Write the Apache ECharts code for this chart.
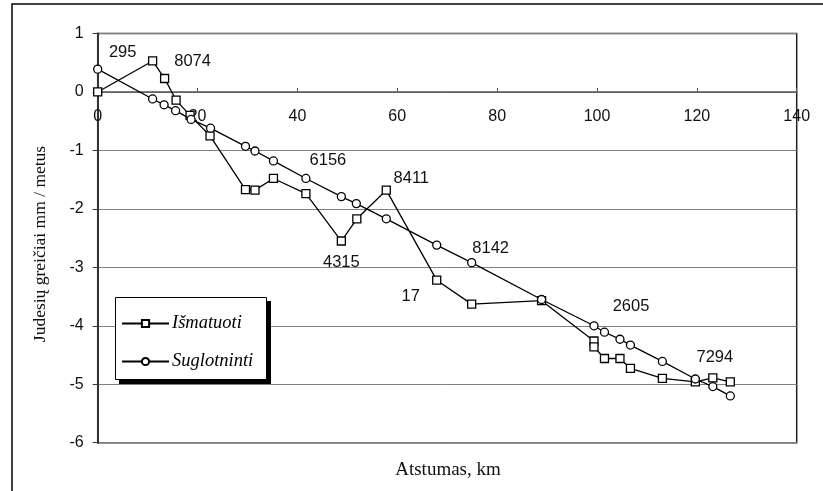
<!DOCTYPE html>
<html>
<head>
<meta charset="utf-8">
<script src="https://cdn.jsdelivr.net/npm/echarts@6/dist/echarts.min.js"></script>
<style>html,body{margin:0;padding:0;background:#fff}#c{width:823px;height:491px}</style>
</head>
<body>
<div id="c"></div>
<script>
// Išmatuoti (measured) — distance km, velocity mm/year
const distIsm = [0, 11.0, 13.4, 15.7, 18.5, 22.5, 29.6, 31.5, 35.2, 41.7, 48.8, 51.9, 57.8, 67.9, 74.9, 88.9, 99.4, 99.4, 101.5, 104.6, 106.7, 113.1, 119.7, 123.2, 126.7];
const valIsm  = [0, 0.53, 0.23, -0.14, -0.40, -0.75, -1.67, -1.68, -1.48, -1.74, -2.55, -2.17, -1.68, -3.22, -3.63, -3.57, -4.26, -4.36, -4.56, -4.56, -4.73, -4.90, -4.96, -4.89, -4.96];
// Suglotninti (smoothed)
const distSug = [0, 11.0, 13.3, 15.6, 18.7, 22.6, 29.6, 31.5, 35.2, 41.7, 48.8, 51.8, 57.8, 67.9, 74.9, 88.9, 99.4, 101.5, 104.6, 106.7, 113.1, 119.7, 123.2, 126.7];
const valSug  = [0.39, -0.12, -0.22, -0.32, -0.47, -0.62, -0.93, -1.01, -1.18, -1.48, -1.79, -1.91, -2.17, -2.62, -2.92, -3.55, -4.00, -4.11, -4.23, -4.33, -4.61, -4.91, -5.04, -5.20];
// station labels attached to points
const stationNames  = ['295', '8074', '6156', '8411', '4315', '17', '8142', '2605', '7294'];
const stationSeries = ['sug', 'ism', 'sug', 'ism', 'ism', 'ism', 'sug', 'sug', 'ism'];
const stationIndex  = [0, 1, 9, 12, 10, 13, 14, 16, 23];
const stationOffset = [[25,-17],[40,0],[22,-18],[25,-12],[0,21],[-26,16],[19,-14],[37,-19],[2,-20]];
const seriesNames = ['Išmatuoti', 'Suglotninti'];
const xTitle = 'Atstumas, km';
const yTitle = 'Judesių greičiai mm / metus';
const xTicks = {min: 0, max: 140, interval: 20};
const yTicks = {min: -6, max: 1, interval: 1};

const gridTop = 33.5, gridBottom = 48.3, chartH = 491;
const gridH = chartH - gridTop - gridBottom;
// x axis crosses the y axis at value 0: shift it up from the bottom edge accordingly
const xAxisOffset = -((0 - yTicks.min) / (yTicks.max - yTicks.min)) * gridH;

function buildData(xs, ys, key) {
  return xs.map((x, i) => {
    const item = {value: [x, ys[i]]};
    for (let k = 0; k < stationNames.length; k++) {
      if (stationSeries[k] === key && stationIndex[k] === i) {
        item.label = {
          show: true, formatter: stationNames[k], position: 'inside',
          offset: stationOffset[k], fontFamily: 'Liberation Sans', fontSize: 16.5, color: '#111'
        };
      }
    }
    return item;
  });
}

const chart = echarts.init(document.getElementById('c'), null, {renderer: 'canvas'});
chart.setOption({
  animation: false,
  backgroundColor: '#fff',
  graphic: [{
    type: 'rect', shape: {x: 12, y: 4, width: 900, height: 600},
    style: {fill: 'none', stroke: '#000', lineWidth: 1.5}, silent: true, z: -10
  }, {
    type: 'rect', shape: {x: 119, y: 301, width: 152, height: 83},
    style: {fill: '#000'}, silent: true, z: 5
  }, {
    type: 'rect', shape: {x: 115.5, y: 297.5, width: 151, height: 82},
    style: {fill: '#fff', stroke: '#000', lineWidth: 1}, silent: true, z: 5
  }, {
    type: 'text', x: 448, y: 470, silent: true, z: 5,
    style: {text: xTitle, font: '19px "Liberation Serif"', fill: '#111', align: 'center', verticalAlign: 'middle'}
  }, {
    type: 'text', x: 40, y: 244, rotation: Math.PI / 2, silent: true, z: 5,
    style: {text: yTitle, font: '17.5px "Liberation Serif"', fill: '#111', align: 'center', verticalAlign: 'middle'}
  }],
  grid: {left: 97.7, right: 26.3, top: gridTop, bottom: gridBottom, show: true, borderColor: '#222', borderWidth: 1.5, backgroundColor: 'transparent'},
  legend: {
    orient: 'vertical', left: 115, top: 297, selectedMode: false, z: 6,
    padding: [17, 10, 12, 6], itemGap: 19, itemWidth: 47, itemHeight: 9,
    textStyle: {fontFamily: 'Liberation Serif', fontStyle: 'italic', fontSize: 18.5, color: '#000', padding: [0,0,0,-2]},
    data: seriesNames
  },
  xAxis: {
    type: 'value', min: xTicks.min, max: xTicks.max, interval: xTicks.interval,
    position: 'bottom', offset: xAxisOffset,
    axisLine: {show: true, onZero: false, lineStyle: {color: '#555', width: 1.5}},
    axisTick: {show: true, inside: true, length: 4, lineStyle: {color: '#555'}},
    axisLabel: {margin: 17, fontFamily: 'Liberation Sans', fontSize: 16, color: '#111'},
    splitLine: {show: false}
  },
  yAxis: {
    type: 'value', min: yTicks.min, max: yTicks.max, interval: yTicks.interval,
    axisLine: {show: true, onZero: false, lineStyle: {color: '#333', width: 2}},
    axisTick: {show: true, length: 5, lineStyle: {color: '#333'}},
    axisLabel: {margin: 14, fontFamily: 'Liberation Sans', fontSize: 16, color: '#111'},
    splitLine: {show: true, lineStyle: {color: '#808080', width: 1}}
  },
  series: [{
    name: seriesNames[0], type: 'line',
    data: buildData(distIsm, valIsm, 'ism'),
    symbol: 'rect', symbolSize: 8, showAllSymbol: true,
    lineStyle: {color: '#000', width: 1.3},
    itemStyle: {color: '#fff', borderColor: '#000', borderWidth: 1.3},
    z: 2
  }, {
    name: seriesNames[1], type: 'line',
    data: buildData(distSug, valSug, 'sug'),
    symbol: 'circle', symbolSize: 8, showAllSymbol: true,
    lineStyle: {color: '#000', width: 1.3},
    itemStyle: {color: '#fff', borderColor: '#000', borderWidth: 1.3},
    z: 3
  }]
});
</script>
</body>
</html>
